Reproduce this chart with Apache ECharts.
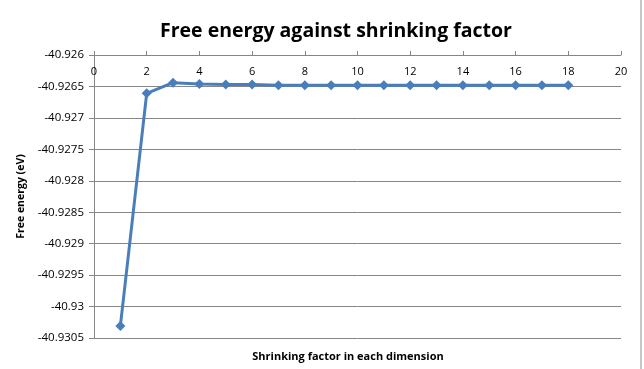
<!DOCTYPE html>
<html>
<head>
<meta charset="utf-8">
<script src="https://cdn.jsdelivr.net/npm/echarts@6/dist/echarts.min.js"></script>
<style>
html,body{margin:0;padding:0;background:#fff;}
#chart{width:644px;height:369px;}
</style>
</head>
<body>
<div id="chart"></div>
<script>
const shrinkingFactors = [1, 2, 3, 4, 5, 6, 7, 8, 9, 10, 11, 12, 13, 14, 15, 16, 17, 18];
const freeEnergies = [-40.93031, -40.92661, -40.92644, -40.92646, -40.92647, -40.92647, -40.92648, -40.92648, -40.92648, -40.92648, -40.92648, -40.92648, -40.92648, -40.92648, -40.92648, -40.92648, -40.92648, -40.92648];
const chartTitle = 'Free energy against shrinking factor';
const xTitle = 'Shrinking factor in each dimension';
const yTitle = 'Free energy (eV)';

const chart = echarts.init(document.getElementById('chart'));
const font = '"Open Sans", "DejaVu Sans", sans-serif';
chart.setOption({
  animation: false,
  backgroundColor: '#fff',
  graphic: [{
    type: 'rect', silent: true,
    shape: {x: -20, y: -12, width: 661, height: 400, r: 10},
    style: {fill: 'none', stroke: '#8c8c8c', lineWidth: 1}
  }],
  title: [{
    text: chartTitle, left: 331, top: 16, textAlign: 'center',
    textStyle: {fontFamily: font, fontWeight: 'bold', fontSize: 19.5, color: '#000'}
  }, {
    text: xTitle, left: 343, top: 346, textAlign: 'center',
    textStyle: {fontFamily: font, fontWeight: 'bold', fontSize: 11, color: '#000'}
  }],
  grid: {left: 94, right: 23, top: 55, bottom: 31, containLabel: false},
  xAxis: {
    type: 'value', position: 'top', min: 0, max: 20, interval: 2,
    axisLine: {show: true, onZero: false, lineStyle: {color: '#868686', width: 1}},
    axisTick: {show: true, inside: false, length: 4, lineStyle: {color: '#868686'}},
    axisLabel: {inside: true, margin: 11, color: '#000', fontFamily: font, fontSize: 11},
    splitLine: {show: false}
  },
  yAxis: {
    type: 'value', min: -40.9305, max: -40.926, interval: 0.0005,
    name: yTitle, nameLocation: 'middle', nameGap: 66, nameRotate: 90,
    nameTextStyle: {fontFamily: font, fontWeight: 'bold', fontSize: 10.5, color: '#000'},
    axisLine: {show: true, onZero: false, lineStyle: {color: '#868686', width: 1}},
    axisTick: {show: true, length: 5, lineStyle: {color: '#868686'}},
    axisLabel: {
      margin: 10, color: '#000', fontFamily: font, fontSize: 11.5,
      formatter: v => String(parseFloat(v.toFixed(4)))
    },
    splitLine: {show: true, lineStyle: {color: '#868686', width: 1}}
  },
  series: [{
    type: 'line',
    data: shrinkingFactors.map((x, i) => [x, freeEnergies[i]]),
    symbol: 'diamond', symbolSize: 10,
    lineStyle: {color: '#4A7EBB', width: 3},
    itemStyle: {color: '#4A7EBB'}
  }]
});
</script>
</body>
</html>
